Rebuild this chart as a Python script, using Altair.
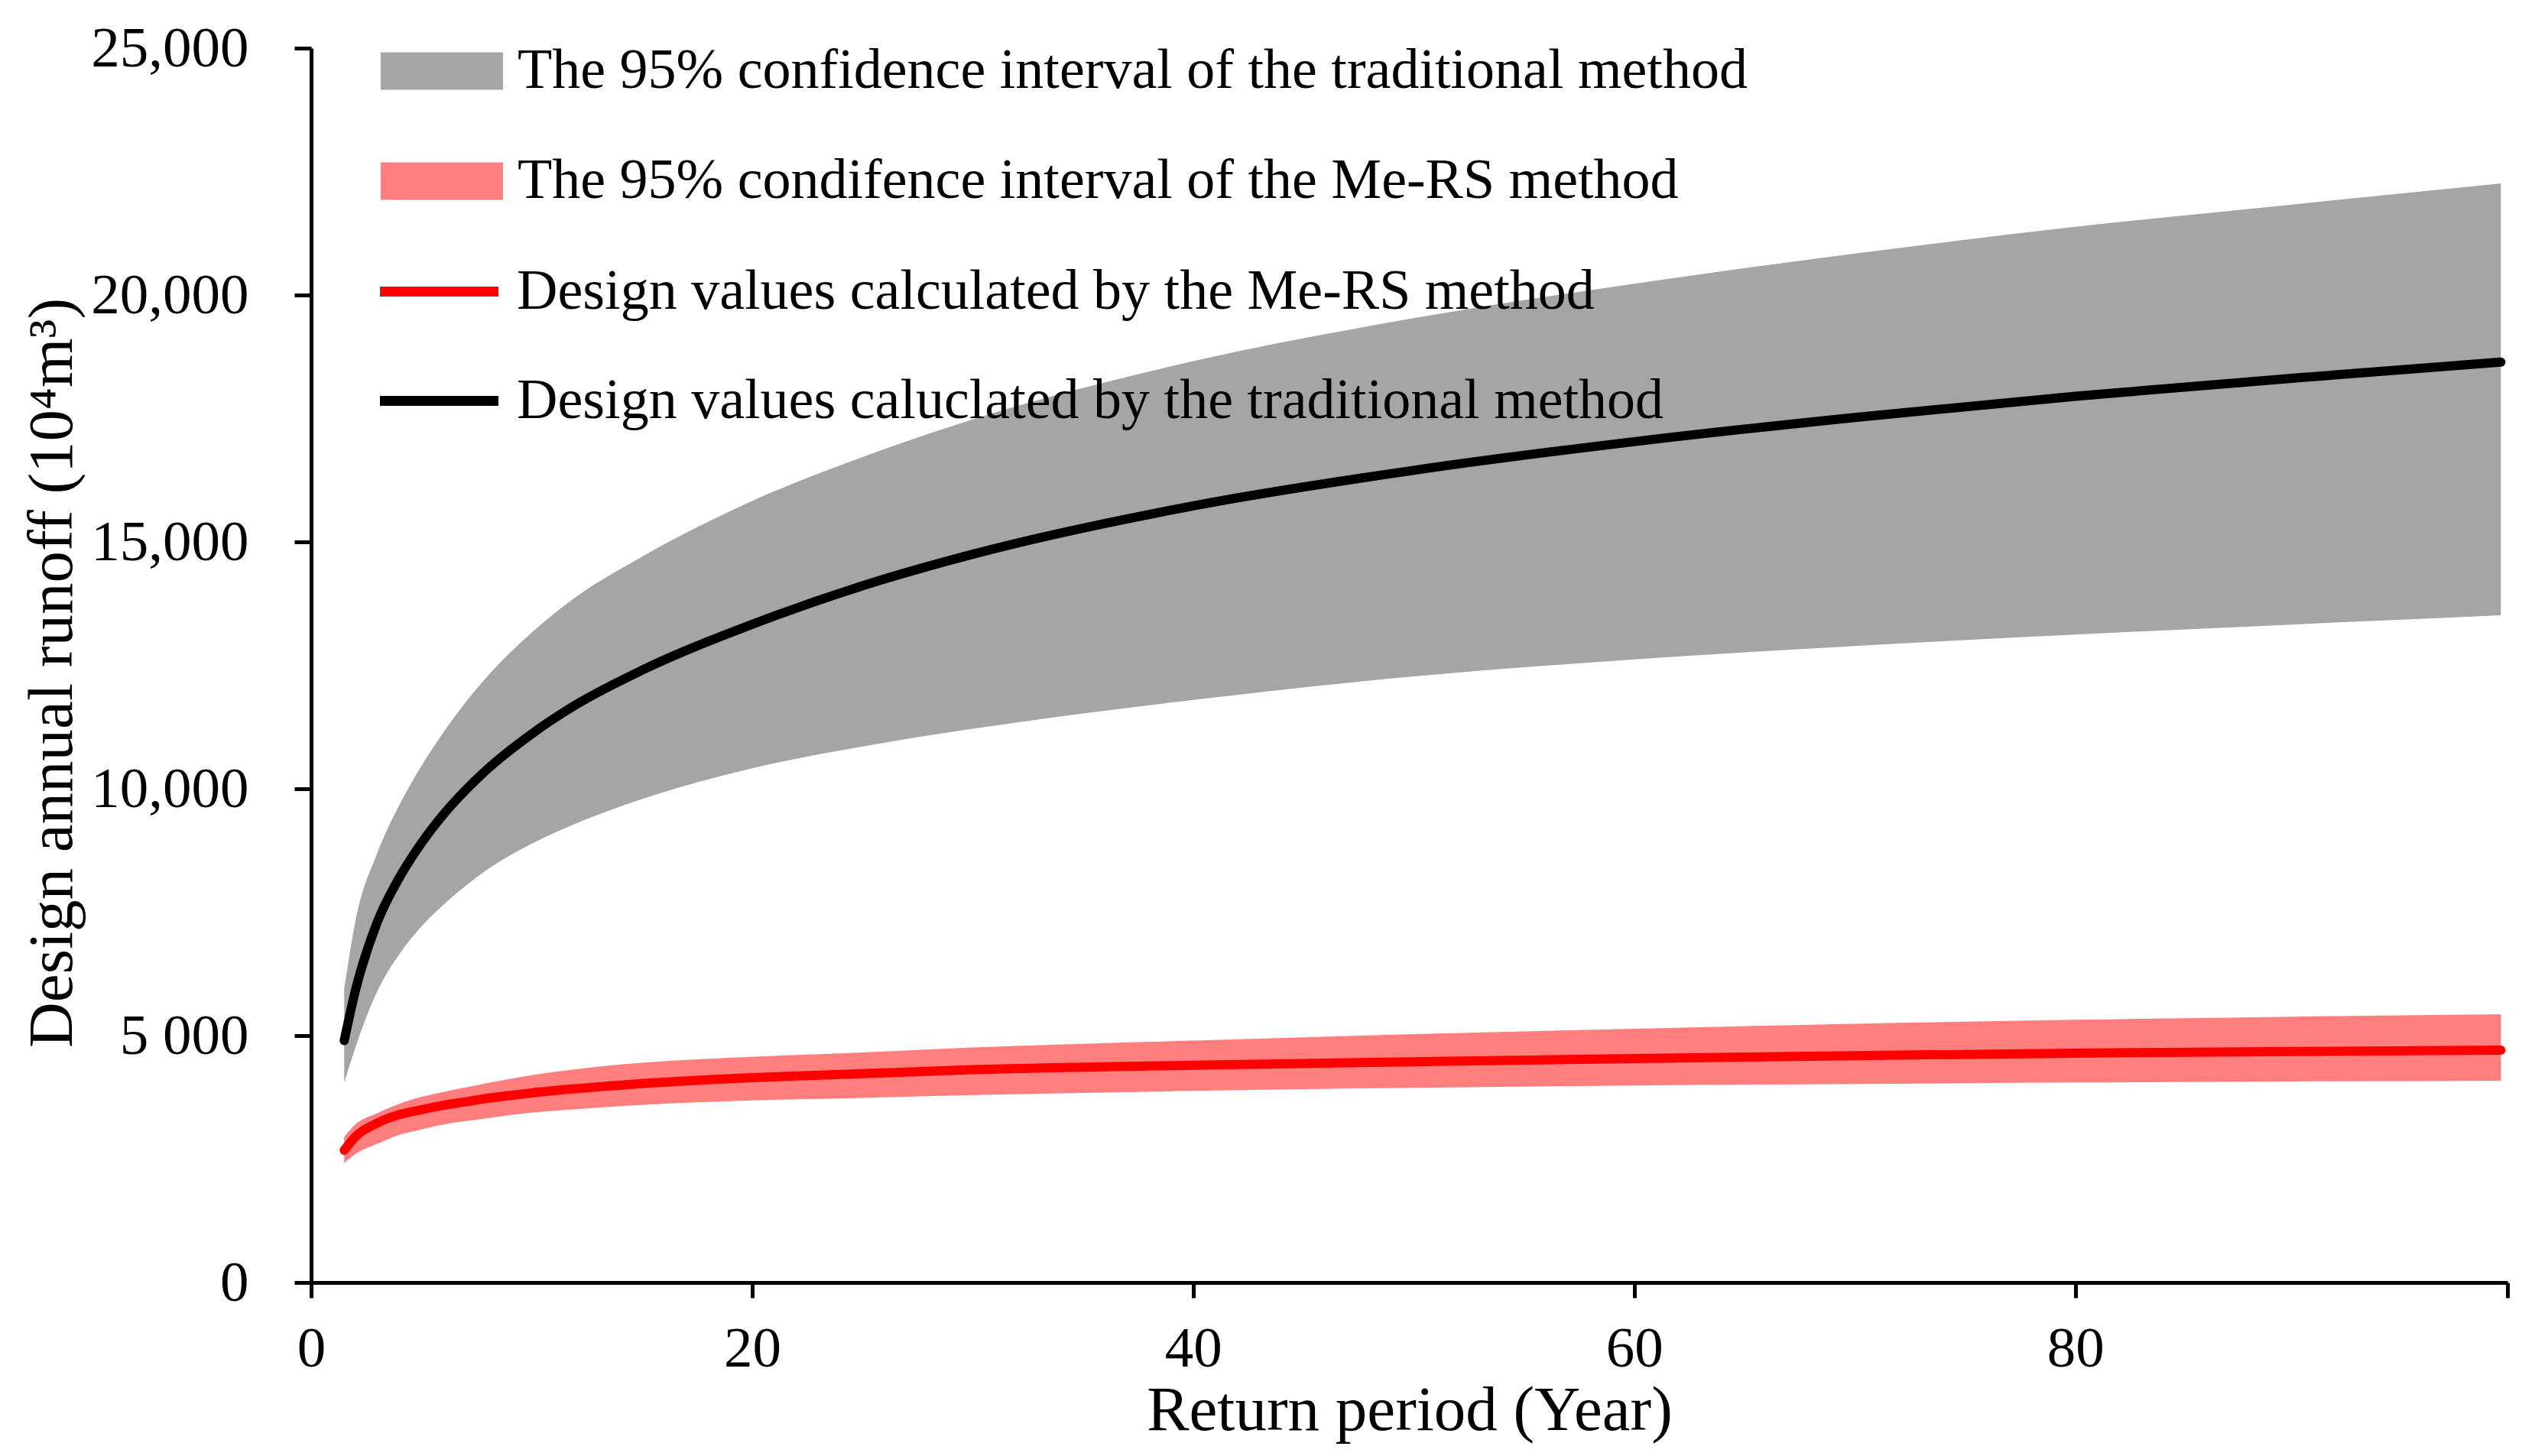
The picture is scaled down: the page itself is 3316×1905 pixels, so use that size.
import altair as alt
import pandas as pd

# Return period (years)
T = [1.5, 2, 3, 4, 5, 6, 7, 8, 10, 12, 15, 20, 25, 30, 40, 50, 60, 70, 80, 90, 99.3]

# Traditional method
trad_mid = [4900, 5900, 7300, 8200, 8900, 9480, 9970, 10400, 11110, 11700, 12400, 13330,
            14110, 14750, 15730, 16450, 17030, 17520, 17950, 18320, 18640]
trad_hi = [5950, 7300, 8700, 9670, 10460, 11140, 11750, 12280, 13160, 13880, 14700, 15830,
           16720, 17480, 18660, 19530, 20230, 20840, 21380, 21840, 22260]
trad_lo = [4050, 4750, 5900, 6650, 7210, 7650, 8030, 8365, 8885, 9295, 9790, 10415,
           10855, 11215, 11800, 12275, 12620, 12890, 13123, 13330, 13514]

# Me-RS method
mers_mid = [2680, 2950, 3230, 3400, 3500, 3590, 3660, 3730, 3840, 3925, 4030, 4150,
            4230, 4310, 4400, 4470, 4535, 4595, 4645, 4680, 4706]
mers_hi = [2950, 3200, 3430, 3620, 3760, 3860, 3950, 4040, 4200, 4320, 4450, 4570,
           4660, 4760, 4900, 5030, 5140, 5240, 5320, 5385, 5433]
mers_lo = [2420, 2600, 2810, 2990, 3100, 3200, 3270, 3330, 3440, 3510, 3600, 3690,
           3740, 3795, 3880, 3945, 3990, 4022, 4050, 4072, 4087]

L_CI_TRAD = "The 95% confidence interval of the traditional method"
L_CI_MERS = "The 95% condifence interval of the Me-RS method"
L_LN_MERS = "Design values calculated by the Me-RS method"
L_LN_TRAD = "Design values caluclated by the traditional method"

FONT = "Liberation Serif"

df_ci_trad = pd.DataFrame({"T": T, "lo": trad_lo, "hi": trad_hi, "s": L_CI_TRAD})
df_ci_mers = pd.DataFrame({"T": T, "lo": mers_lo, "hi": mers_hi, "s": L_CI_MERS})
df_ln_mers = pd.DataFrame({"T": T, "v": mers_mid, "s": L_LN_MERS})
df_ln_trad = pd.DataFrame({"T": T, "v": trad_mid, "s": L_LN_TRAD})

x_enc = alt.X(
    "T:Q",
    scale=alt.Scale(domain=[0, 99.6], nice=False, zero=False),
    axis=alt.Axis(
        values=[0, 20, 40, 60, 80, 99.6],
        labelExpr="datum.value > 99 ? '' : format(datum.value, 'd')",
        title="Return period (Year)",
        titleFontSize=83,
        titleY=192,
        titleBaseline="alphabetic",
        labelFontSize=75,
        labelPadding=30,
        tickSize=20,
    ),
)

y_scale = alt.Scale(domain=[0, 25000], nice=False)
y_axis = alt.Axis(
    values=[0, 5000, 10000, 15000, 20000, 25000],
    labelExpr="datum.value == 5000 ? '5 000' : format(datum.value, ',')",
    title="Design annual runoff (10⁴m³)",
    titleFontSize=83,
    titleX=-314,
    titleY=817,
    titleAlign="center",
    titleBaseline="alphabetic",
    labelFontSize=75,
    labelPadding=60,
    labelLimit=1000,
    tickSize=22,
)

fill_scale = alt.Scale(domain=[L_CI_TRAD, L_CI_MERS], range=["#A5A5A5", "#FF7F7F"])
fill_legend = alt.Legend(
    title=None,
    orient="none",
    legendX=121,
    legendY=-20,
    symbolType="M-1.6,-0.49H1.6V0.49H-1.6Z",
    symbolSize=10000,
    symbolStrokeWidth=0,
    symbolOpacity=1,
    labelFontSize=74,
    labelFont=FONT,
    labelOffset=49,
    labelLimit=3000,
    rowPadding=57,
    padding=0,
)
stroke_scale = alt.Scale(domain=[L_LN_MERS, L_LN_TRAD], range=["#FF0000", "#000000"])
stroke_legend = alt.Legend(
    title=None,
    orient="none",
    legendX=111,
    legendY=262,
    symbolType="M-1.55,0H1.55",
    symbolSize=10000,
    symbolStrokeWidth=13,
    symbolOpacity=1,
    labelFontSize=74,
    labelFont=FONT,
    labelOffset=45,
    labelLimit=3000,
    rowPadding=49,
    padding=0,
)

area_trad = alt.Chart(df_ci_trad).mark_area(interpolate="monotone", opacity=1).encode(
    x=x_enc,
    y=alt.Y("lo:Q", scale=y_scale, axis=y_axis),
    y2="hi:Q",
    fill=alt.Fill("s:N", scale=fill_scale, legend=fill_legend),
)
area_mers = alt.Chart(df_ci_mers).mark_area(interpolate="monotone", opacity=1).encode(
    x=x_enc,
    y=alt.Y("lo:Q", scale=y_scale, axis=y_axis),
    y2="hi:Q",
    fill=alt.Fill("s:N", scale=fill_scale, legend=fill_legend),
)
line_mers = alt.Chart(df_ln_mers).mark_line(
    interpolate="monotone", strokeWidth=12, strokeCap="round", opacity=1
).encode(
    x=x_enc,
    y=alt.Y("v:Q", scale=y_scale, axis=y_axis),
    stroke=alt.Stroke("s:N", scale=stroke_scale, legend=stroke_legend),
)
line_trad = alt.Chart(df_ln_trad).mark_line(
    interpolate="monotone", strokeWidth=12, strokeCap="round", opacity=1
).encode(
    x=x_enc,
    y=alt.Y("v:Q", scale=y_scale, axis=y_axis),
    stroke=alt.Stroke("s:N", scale=stroke_scale, legend=stroke_legend),
)

chart = (
    alt.layer(area_trad, area_mers, line_mers, line_trad)
    .properties(
        width=2873,
        height=1615,
        autosize=alt.AutoSizeParams(type="none"),
        padding={"left": 399, "top": 55, "right": 28, "bottom": 219},
        background="white",
    )
    .configure_view(stroke=None)
    .configure_axis(
        grid=False,
        domainColor="black",
        domainWidth=5,
        tickColor="black",
        tickWidth=5,
        labelColor="black",
        titleColor="black",
        labelFont=FONT,
        titleFont=FONT,
        titleFontWeight="normal",
        labelFlush=False,
        labelOverlap=False,
    )
    .configure_legend(labelColor="black")
)

chart.save("out.html", embed_options={"renderer": "svg", "actions": False})
